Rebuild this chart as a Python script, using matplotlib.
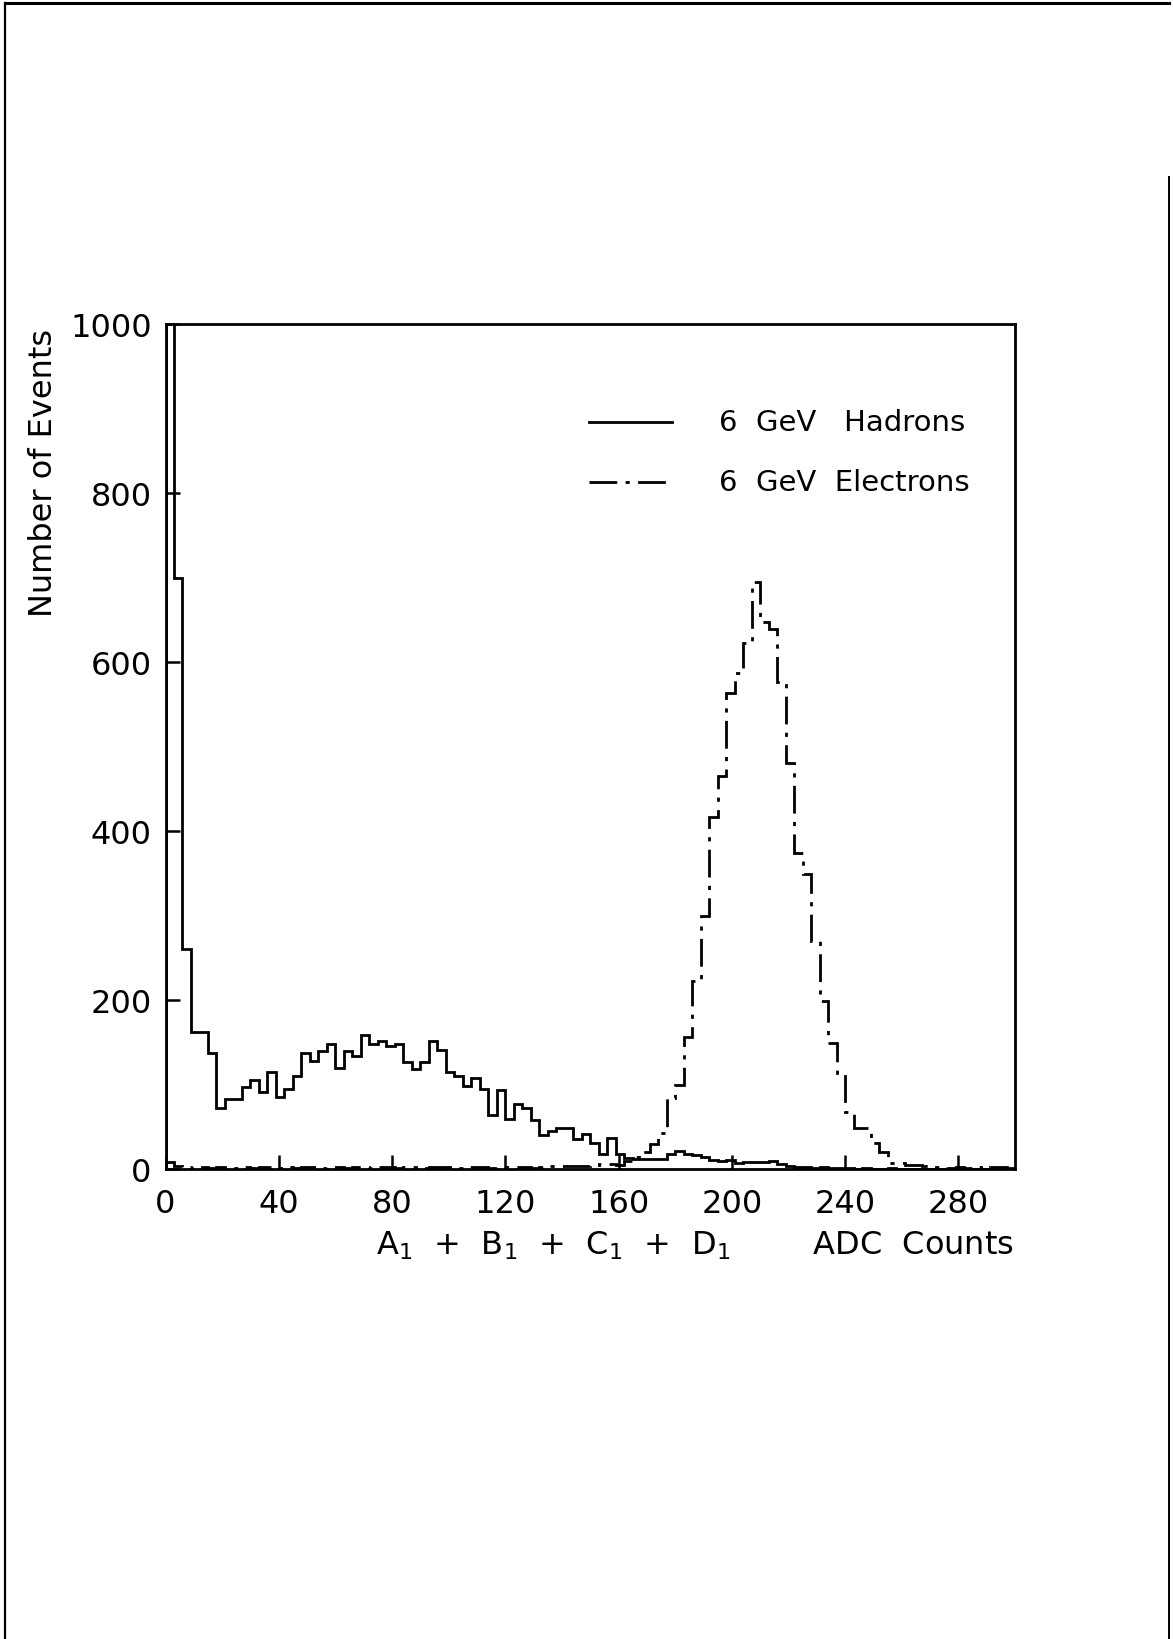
import numpy as np
import matplotlib.pyplot as plt
from matplotlib.lines import Line2D

# bin edges: 0..300 ADC counts in steps of 3
edges = np.arange(0, 301, 3)

# 6 GeV hadrons, events per bin (first bin runs off the top of the scale)
hadrons = [1400, 700, 260, 162, 162, 137, 72, 83, 83, 97,
           105, 91, 115, 85, 95, 110, 137, 128, 140, 148,
           120, 140, 134, 158, 148, 152, 146, 148, 127, 118,
           127, 151, 141, 115, 110, 98, 108, 95, 64, 93,
           59, 77, 72, 58, 40, 45, 48, 49, 36, 42,
           31, 18, 37, 18, 13, 12, 12, 12, 12, 18,
           21, 18, 16, 14, 11, 9, 11, 7, 8, 8,
           8, 10, 6, 3, 2, 2, 1, 2, 1, 1,
           1, 0, 1, 0, 0, 1, 0, 0, 0, 0,
           0, 0, 0, 0, 0, 0, 0, 0, 0, 0]

# 6 GeV electrons, events per bin
electrons = [8, 3, 2, 1, 2, 1, 2, 2, 1, 2,
             1, 2, 2, 1, 2, 1, 2, 2, 1, 2,
             2, 1, 2, 2, 1, 2, 2, 1, 2, 2,
             1, 2, 2, 2, 1, 2, 2, 2, 1, 2,
             2, 2, 2, 1, 2, 4, 4, 3, 3, 4,
             5, 6, 6, 5, 9, 14, 20, 30, 43, 84,
             99, 156, 222, 299, 416, 465, 563, 587, 622, 695,
             647, 639, 576, 481, 374, 349, 270, 199, 149, 114,
             68, 48, 48, 31, 20, 7, 7, 5, 5, 4,
             2, 2, 1, 2, 1, 2, 1, 2, 2, 1]

xticks = [0, 40, 80, 120, 160, 200, 240, 280]
yticks = [0, 200, 400, 600, 800, 1000]

dashdot = (0, (10, 3, 1.5, 3))

W, H = 1173, 1640
fig = plt.figure(figsize=(W / 100, H / 100), dpi=100)
ax = fig.add_axes([165.5 / W, 1 - 1170 / H, 849.5 / W, 845 / H])

ax.stairs(hadrons, edges, color='black', lw=2.0)
ax.stairs(electrons, edges, color='black', lw=2.0, linestyle=dashdot)

ax.set_xlim(0, 300)
ax.set_ylim(0, 1000)
ax.set_xticks(xticks)
ax.set_yticks(yticks)
ax.tick_params(direction='in', length=10, width=1.8, labelsize=23,
               top=False, right=False)
ax.tick_params(axis='x', pad=14)
ax.tick_params(axis='y', pad=10)
for s in ax.spines.values():
    s.set_linewidth(2.0)

# legend drawn by hand
ax.plot([0.4985, 0.596], [0.884, 0.884], color='black', lw=2.0,
        transform=ax.transAxes, clip_on=False)
ax.plot([0.4985, 0.596], [0.813, 0.813], color='black', lw=2.0,
        linestyle=dashdot, transform=ax.transAxes, clip_on=False)
ax.text(0.6516, 0.884, "6  GeV   Hadrons", fontsize=21, va='center', ha='left',
        transform=ax.transAxes)
ax.text(0.6516, 0.813, "6  GeV  Electrons", fontsize=21, va='center', ha='left',
        transform=ax.transAxes)

# axis titles
fig.text(1014 / W, 1 - 1246 / H,
         r"A$_\mathregular{1}$  +  B$_\mathregular{1}$  +  C$_\mathregular{1}$  +  D$_\mathregular{1}$        ADC  Counts",
         fontsize=23, ha='right', va='center')
fig.text(44 / W, 1 - 329 / H, "Number of Events", fontsize=23,
         rotation=90, ha='center', va='top')

# page frame
fig.add_artist(Line2D([4.5 / W, 4.5 / W], [0, 1 - 4 / H], color='black', lw=1.6))
fig.add_artist(Line2D([4.5 / W, 1169 / W], [1 - 4 / H, 1 - 4 / H], color='black', lw=2.2))
fig.add_artist(Line2D([1169 / W, 1169 / W], [0, 1 - 178 / H], color='black', lw=1.4))

fig.savefig('out.png', dpi=100)
